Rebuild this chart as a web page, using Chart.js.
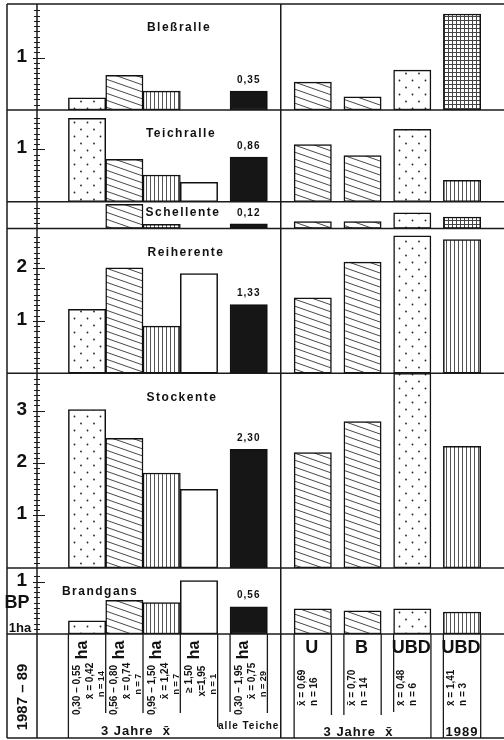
<!DOCTYPE html>
<html>
<head>
<meta charset="utf-8">
<script src="https://cdn.jsdelivr.net/npm/chart.js@4.4.1/dist/chart.umd.min.js"></script>
<style>
  html, body { margin: 0; padding: 0; background: #fff; }
  canvas { display: block; }
</style>
</head>
<body>
<canvas id="ponds" width="504" height="740"></canvas>
<script>
// Brutpaare pro 1 ha Teichfläche, 1987 - 89
const species = ['Bleßralle', 'Teichralle', 'Schellente', 'Reiherente', 'Stockente', 'Brandgans'];
const columns = ['0,30 – 0,55 ha', '0,56 – 0,80 ha', '0,95 – 1,50 ha', '≥ 1,50 ha', 'alle Teiche', 'U', 'B', 'UBD', 'UBD 1989'];
const panelMax = [2.02, 1.75, 0.51, 2.76, 3.71, 1.26];

const blessralle = [0.23, 0.66, 0.36, null, 0.36, 0.53, 0.25, 0.76, 1.83];
const teichralle = [1.59, 0.81, 0.51, 0.37, 0.85, 1.09, 0.88, 1.38, 0.41];
const schellente = [null, 0.46, 0.08, null, 0.09, 0.13, 0.13, 0.30, 0.22];
const reiherente = [1.22, 2.01, 0.90, 1.90, 1.31, 1.44, 2.12, 2.62, 2.55];
const stockente  = [3.02, 2.47, 1.81, 1.50, 2.26, 2.20, 2.79, 3.71, 2.32];
const brandgans  = [0.25, 0.64, 0.60, 1.02, 0.52, 0.48, 0.44, 0.48, 0.42];

const meanLabels = ['0,35', '0,86', '0,12', '1,33', '2,30', '0,56'];
const tickLabels = [[1], [1], [], [1, 2], [1, 2, 3], [1]];

const sizeRanges = ['0,30 – 0,55', '0,56 – 0,80', '0,95 – 1,50', '≥ 1,50', '0,30 – 1,95'];
const sizeMeans = ['x\u0304 = 0,42', 'x\u0304 = 0,74', 'x\u0304 = 1,24', 'x=1,95', 'x\u0304 = 0,75'];
const sizeN = ['n = 14', 'n = 7', 'n = 7', 'n = 1', 'n = 29'];
const groupNames = ['U', 'B', 'UBD', 'UBD'];
const groupMeans = ['x\u0304 = 0,69', 'x\u0304 = 0,70', 'x\u0304 = 0,48', 'x\u0304 = 1,41'];
const groupN = ['n = 16', 'n = 14', 'n = 6', 'n = 3'];

const panels = [blessralle, teichralle, schellente, reiherente, stockente, brandgans];

// column layout: each bar is 3 units wide, gaps between groups
const gapBefore = [0, 0, 0, 0, 1, 2.15, 1, 1, 1];
const colX = [];
let pos = 0;
gapBefore.forEach(g => { pos += g; colX.push(pos + 1.5); pos += 3; });

const FONT = '"Liberation Sans", Arial, sans-serif';

// hatch patterns
function makePattern(w, h, paint) {
    const c = document.createElement('canvas');
    c.width = w; c.height = h;
    const g = c.getContext('2d');
    g.fillStyle = '#fff';
    g.fillRect(0, 0, w, h);
    paint(g);
    return document.getElementById('ponds').getContext('2d').createPattern(c, 'repeat');
}

const fills = {
    dots: makePattern(13, 14, g => {
        g.fillStyle = '#222';
        [[3, 3.5], [9.5, 10.5]].forEach(([x, y]) => { g.beginPath(); g.arc(x, y, 0.9, 0, Math.PI * 2); g.fill(); });
    }),
    diag: makePattern(20, 7, g => {
        g.strokeStyle = '#333';
        g.lineWidth = 0.9;
        [-7, 0, 7].forEach(o => { g.beginPath(); g.moveTo(0, o); g.lineTo(20, o + 7); g.stroke(); });
    }),
    vert: makePattern(4, 2, g => { g.fillStyle = '#555'; g.fillRect(2, 0, 1, 2); }),
    grid: makePattern(4, 4, g => { g.fillStyle = '#444'; g.fillRect(0, 0, 4, 1); g.fillRect(0, 0, 1, 4); }),
    none: '#fff',
    solid: '#161616'
};
const colFill = ['dots', 'diag', 'vert', 'none', 'solid', 'diag', 'diag', 'dots', 'vert'];
function fillFor(p, i) {
    if (i === 8 && (p === 0 || p === 2)) return fills.grid;
    return fills[colFill[i]];
}

function vText(ctx, text, x, y, font, align) {
    ctx.save();
    ctx.translate(x, y);
    ctx.rotate(-Math.PI / 2);
    ctx.font = font;
    ctx.textAlign = align;
    ctx.textBaseline = 'middle';
    ctx.fillText(text, 0, 0);
    ctx.restore();
}

function line(ctx, x1, y1, x2, y2) {
    ctx.beginPath();
    ctx.moveTo(x1, y1);
    ctx.lineTo(x2, y2);
    ctx.stroke();
}

const BOTTOM = 738;
const LEFT = 7;

const framePlugin = {
    id: 'frame',
    afterDatasetsDraw(chart) {
        const ctx = chart.ctx;
        const area = chart.chartArea;
        const xs = chart.scales.x;
        const edgeL = i => xs.getPixelForValue(colX[i] - 1.5);
        const edgeR = i => xs.getPixelForValue(colX[i] + 1.5);
        const mid = (edgeR(4) + edgeL(5)) / 2;

        ctx.save();
        ctx.strokeStyle = '#1a1a1a';
        ctx.lineWidth = 1.5;
        line(ctx, LEFT, area.top, 504, area.top);
        panels.forEach((v, p) => {
            const s = chart.scales['y' + p];
            line(ctx, LEFT, s.bottom, 504, s.bottom);
        });
        line(ctx, LEFT, area.top, LEFT, BOTTOM);
        line(ctx, area.left, area.top, area.left, BOTTOM);
        line(ctx, mid, area.top, mid, BOTTOM);
        line(ctx, LEFT, BOTTOM, 504, BOTTOM);

        // label box lines
        ctx.lineWidth = 1.3;
        const top = area.bottom;
        const seg = (x, y2) => line(ctx, x, top, x, y2);
        seg(edgeL(0), BOTTOM);
        seg(edgeR(0), 713); seg(edgeR(1), 713); seg(edgeR(2), 713); seg(edgeR(3), 727);
        seg(edgeL(4), 712); seg(edgeR(4), 713);
        seg(edgeL(5), BOTTOM); seg(edgeR(5), 715); seg(edgeL(6), 715); seg(edgeR(6), 715);
        seg(edgeL(7), 712); seg(edgeR(7), BOTTOM); seg(edgeL(8), BOTTOM); seg(edgeR(8), BOTTOM);

        // axis tick marks and labels
        ctx.lineWidth = 1;
        ctx.fillStyle = '#111';
        ctx.font = 'bold 19px ' + FONT;
        ctx.textAlign = 'right';
        ctx.textBaseline = 'middle';
        panels.forEach((v, p) => {
            const s = chart.scales['y' + p];
            s.ticks.forEach(t => {
                if (t.value <= 0.001 || t.value >= s.max - 0.01) return;
                const y = Math.round(s.getPixelForValue(t.value)) + 0.5;
                const major = Math.abs(t.value - Math.round(t.value)) < 0.001;
                if (major) line(ctx, area.left - 4, y, area.left + 8, y);
                else line(ctx, area.left - 3, y, area.left + 3, y);
                if (major && tickLabels[p].includes(Math.round(t.value))) {
                    ctx.fillText(String(Math.round(t.value)), area.left - 10, y - 2);
                }
            });
        });
        ctx.restore();
    },
    afterDraw(chart) {
        const ctx = chart.ctx;
        const xs = chart.scales.x;
        const edgeL = i => xs.getPixelForValue(colX[i] - 1.5);
        const edgeR = i => xs.getPixelForValue(colX[i] + 1.5);
        const center = i => xs.getPixelForValue(colX[i]);

        ctx.save();
        ctx.fillStyle = '#111';
        ctx.textAlign = 'center';
        ctx.textBaseline = 'middle';

        // species titles and mean labels
        const titleX = [179, 181, 183, 186, 182, 100];
        species.forEach((name, p) => {
            const s = chart.scales['y' + p];
            ctx.font = 'bold 12px ' + FONT;
            ctx.letterSpacing = '1.5px';
            ctx.fillText(name, titleX[p], p === 2 ? s.top + 11 : s.top + 24);
            ctx.font = 'bold 10px ' + FONT;
            ctx.letterSpacing = '1px';
            ctx.fillText(meanLabels[p], center(4), s.getPixelForValue(panels[p][4]) - 11);
        });
        ctx.letterSpacing = '0px';

        // unit label
        const sb = chart.scales.y5;
        ctx.font = 'bold 18px ' + FONT;
        ctx.fillText('BP', 17, sb.bottom - 31);
        ctx.font = 'bold 13px ' + FONT;
        ctx.fillText('1ha', 20, sb.bottom - 6);

        // size class labels
        for (let i = 0; i < 5; i++) {
            const L = edgeL(i);
            vText(ctx, sizeRanges[i], L + 9, 665, 'bold 10px ' + FONT, 'right');
            vText(ctx, 'ha', L + 14, 650, 'bold 16px ' + FONT, 'center');
            vText(ctx, sizeMeans[i], L + 22, 681, 'bold 10px ' + FONT, 'center');
            vText(ctx, sizeN[i], L + 33, 684, 'bold 9px ' + FONT, 'center');
        }
        // pond group labels
        for (let j = 0; j < 4; j++) {
            const i = 5 + j;
            const L = edgeL(i);
            ctx.font = 'bold 18px ' + FONT;
            ctx.fillText(groupNames[j], center(i) - 1, 648);
            vText(ctx, groupMeans[j], L + 8, 706, 'bold 10px ' + FONT, 'left');
            vText(ctx, groupN[j], L + 20, 706, 'bold 10px ' + FONT, 'left');
        }

        ctx.font = 'bold 13px ' + FONT;
        ctx.letterSpacing = '1px';
        ctx.fillText('3 Jahre  x\u0304', (edgeL(0) + edgeR(3)) / 2 - 7, 731);
        ctx.fillText('3 Jahre  x\u0304', (edgeL(5) + edgeR(7)) / 2 - 4, 732);
        ctx.fillText('1989', center(8), 732);
        ctx.font = 'bold 10px ' + FONT;
        ctx.fillText('alle Teiche', center(4), 726);
        ctx.letterSpacing = '0px';
        vText(ctx, '1987 – 89', 23, 697, 'bold 15px ' + FONT, 'center');
        ctx.restore();
    }
};

const scales = {
    x: { type: 'linear', display: false, min: -0.96, max: 33.46, ticks: { stepSize: 3, includeBounds: false } }
};
panelMax.forEach((m, p) => {
    scales['y' + p] = {
        type: 'linear',
        position: 'left',
        stack: 'panels',
        stackWeight: m,
        weight: panelMax.length - p,
        min: 0,
        max: m,
        border: { display: false },
        grid: { display: false, drawTicks: false },
        ticks: { display: false, stepSize: 0.1, autoSkip: false, maxTicksLimit: 100 },
        afterFit: s => { s.width = 28; }
    };
});

new Chart(document.getElementById('ponds'), {
    type: 'bar',
    data: {
        datasets: panels.map((vals, p) => ({
            label: species[p],
            yAxisID: 'y' + p,
            data: vals.map((v, i) => ({ x: colX[i], y: v })),
            backgroundColor: vals.map((v, i) => fillFor(p, i)),
            borderColor: '#111',
            borderWidth: 1.5,
            borderSkipped: false,
            grouped: false,
            categoryPercentage: 1,
            barPercentage: 1
        }))
    },
    options: {
        responsive: false,
        animation: false,
        layout: { padding: { left: LEFT + 2, top: 4, right: 0, bottom: 740 - 634 } },
        plugins: { legend: { display: false }, tooltip: { enabled: false } },
        scales
    },
    plugins: [framePlugin]
});
</script>
</body>
</html>
